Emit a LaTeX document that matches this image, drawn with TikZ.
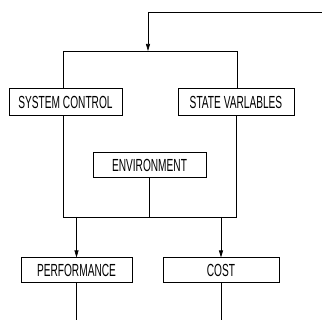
\documentclass[tikz,border=0pt]{standalone}
\usepackage{fontspec}
\setmainfont{Liberation Sans}[FakeStretch=0.58]
\usetikzlibrary{arrows.meta}
\begin{document}
\begin{tikzpicture}[x=1pt,y=-1pt,line width=0.7pt,
		block/.style={rectangle,draw,line width=1pt,inner sep=0pt,minimum height=27pt,font=\fontsize{17.5}{17.5}\selectfont},
		flow/.style={-{Triangle[length=7pt,width=4pt]}}]
				\useasboundingbox (0,0) rectangle (322,320);
				
				\node[block,minimum width=113pt] (sysctrl) at (65.5,102) {SYSTEM CONTROL};
				\node[block,minimum width=116pt] (statevar) at (236,102) {STATE VARLABLES};
				\node[block,minimum width=113pt,minimum height=25pt] (env) at (149.5,165.5) {ENVIRONMENT};
				\node[block,minimum width=111pt,minimum height=25pt] (perf) at (76.5,270.5) {PERFORMANCE};
				\node[block,minimum width=116pt,minimum height=25pt] (cost) at (221,270.5) {COST};
				
				\coordinate (fbin) at (322,12);
				\coordinate (fbturn) at (148,12);
				\coordinate (tl) at (63,51);
				\coordinate (tr) at (237,51);
				\coordinate (bl) at (63,217);
				\coordinate (br) at (236,217);
				\coordinate (outl) at (76.5,320);
				\coordinate (outr) at (221,320);
				
				\draw (fbin) -- (fbturn);
				\draw[flow] (fbturn) -- (fbturn |- tl);
				\draw (tl |- sysctrl.north) -- (tl) -- (tr) -- (tr |- statevar.north);
				\draw (tl |- sysctrl.south) -- (bl) -- (br) -- (br |- statevar.south);
				\draw (env.south) -- (env.south |- bl);
				\draw[flow] (perf.north |- bl) -- (perf.north);
				\draw[flow] (cost.north |- bl) -- (cost.north);
				\draw (perf.south) -- (outl);
				\draw (cost.south) -- (outr);
			\end{tikzpicture}
\end{document}
